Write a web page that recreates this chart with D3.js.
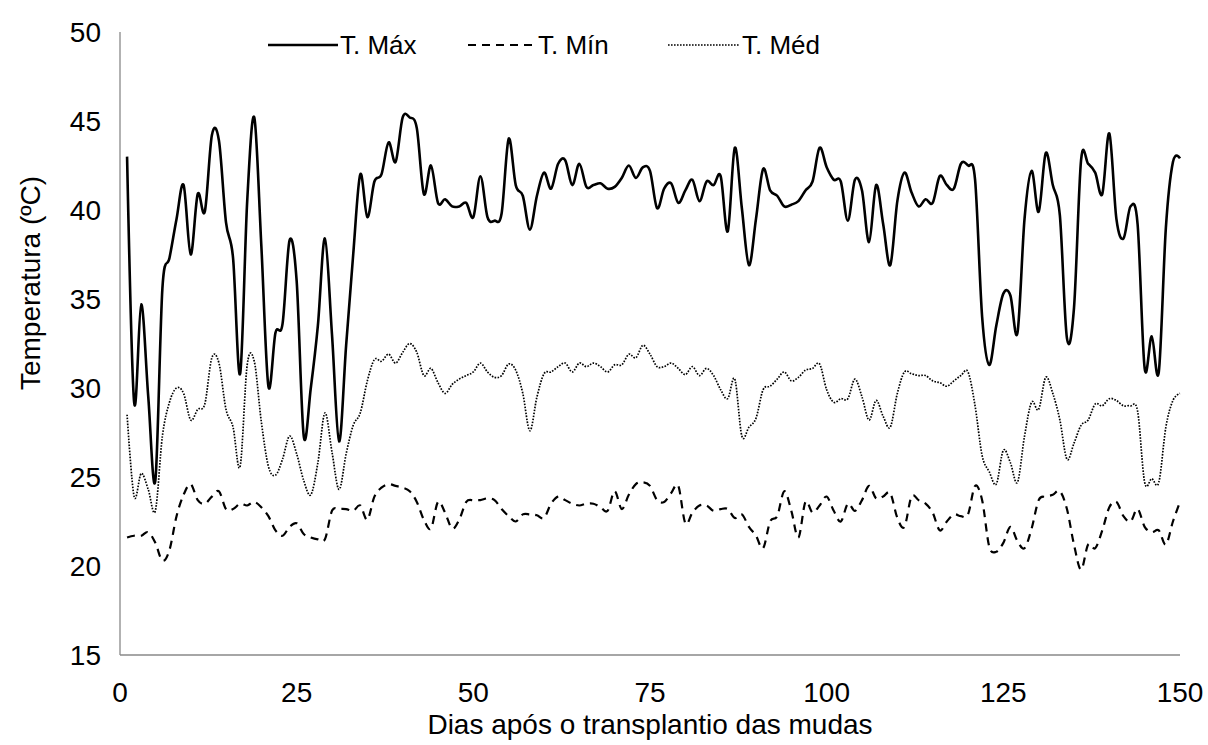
<!DOCTYPE html>
<html>
<head>
<meta charset="utf-8">
<script src="https://d3js.org/d3.v7.min.js"></script>
<style>
  body { margin: 0; background: #fff; }
  text { font-family: "Liberation Sans", Arial, sans-serif; fill: #000; }
</style>
</head>
<body>
<div id="chart"></div>
<script>
// daily temperatures, days 1..150
var tMax = [43.0,29.2,34.7,29.5,24.8,35.6,37.3,39.5,41.4,37.5,40.9,39.9,44.2,43.9,39.3,37.3,30.8,40.5,45.2,38.0,
  30.1,33.1,33.6,38.3,36.0,27.3,30.0,33.5,38.4,33.0,27.0,32.4,37.5,42.0,39.6,41.6,42.0,43.8,42.7,45.2,
  45.2,44.6,40.9,42.5,40.4,40.6,40.2,40.2,40.4,39.6,41.9,39.6,39.4,39.8,44.0,41.4,40.8,38.9,40.8,42.1,
  41.2,42.6,42.8,41.4,42.6,41.3,41.4,41.5,41.2,41.3,41.8,42.5,41.8,42.4,42.2,40.1,41.2,41.5,40.4,41.1,
  41.7,40.5,41.6,41.4,41.9,38.8,43.5,40.1,36.9,39.5,42.3,41.1,40.8,40.2,40.3,40.5,41.1,41.6,43.5,42.4,
  41.7,41.6,39.4,41.7,41.1,38.2,41.4,39.2,36.9,40.5,42.1,41.0,40.2,40.6,40.4,41.9,41.4,41.2,42.6,42.5,
  41.7,34.0,31.3,33.5,35.3,35.2,33.1,39.5,42.2,39.9,43.2,41.4,39.7,32.8,34.5,42.8,42.6,42.1,40.9,44.3,
  39.5,38.4,40.2,39.2,31.1,32.9,30.9,39.0,42.7,42.9];
var tMin = [21.6,21.7,21.7,21.9,21.3,20.3,20.9,22.8,24.0,24.6,23.7,23.5,23.9,24.2,23.2,23.2,23.5,23.4,23.6,23.3,
  22.8,22.0,21.7,22.2,22.4,21.8,21.6,21.5,21.5,23.1,23.2,23.2,23.1,23.4,22.6,23.9,24.4,24.6,24.5,24.4,
  24.2,23.6,22.6,22.1,23.6,23.0,22.1,22.6,23.6,23.7,23.7,23.8,23.7,23.2,22.8,22.5,22.9,22.9,22.85,22.7,
  23.5,23.9,23.7,23.5,23.4,23.5,23.5,23.3,23.1,24.2,23.2,24.0,24.6,24.7,24.5,23.7,23.6,24.1,24.5,22.4,
  23.0,23.4,23.4,23.1,23.2,23.2,22.7,22.9,22.2,21.7,21.0,22.5,22.8,24.2,23.1,21.6,23.6,23.0,23.4,23.9,
  23.1,22.5,23.5,23.1,23.7,24.5,23.8,23.9,24.1,22.7,22.2,23.9,23.7,23.5,23.0,22.0,22.5,22.9,22.8,22.9,
  24.5,23.7,21.1,20.8,21.3,22.2,21.4,21.0,22.1,23.7,23.9,24.0,24.2,23.2,21.2,19.8,21.2,21.0,22.0,23.3,
  23.6,22.8,22.5,23.2,22.2,21.9,22.0,21.2,22.5,23.6];
var tMed = [28.5,23.9,25.2,24.3,23.1,27.3,29.2,30.0,29.7,28.2,28.8,29.1,31.7,31.4,28.8,27.8,25.6,31.3,31.5,28.1,
  25.6,25.1,26.0,27.3,26.3,24.8,24.0,25.8,28.6,26.4,24.3,26.3,27.9,28.6,30.4,31.6,31.5,31.9,31.4,32.0,
  32.5,32.0,30.7,31.1,30.3,29.7,30.2,30.5,30.7,30.9,31.4,30.9,30.6,30.7,31.35,31.0,29.7,27.6,29.5,30.8,
  30.9,31.2,31.4,30.9,31.4,31.2,31.4,31.2,30.9,31.3,31.3,31.9,31.7,32.4,31.9,31.2,31.2,31.4,31.1,30.75,
  31.2,30.7,31.1,30.7,29.9,29.4,30.5,27.3,27.8,28.3,29.9,30.1,30.5,30.9,30.4,30.6,31.0,31.1,31.35,29.9,
  29.2,29.4,29.4,30.5,29.5,28.2,29.3,28.4,27.8,29.7,30.9,30.8,30.7,30.7,30.4,30.3,30.1,30.4,30.7,30.9,
  29.0,26.2,25.3,24.6,26.5,25.8,24.7,27.3,29.2,28.8,30.6,29.7,28.2,26.0,26.9,27.9,28.2,29.1,29.0,29.4,
  29.3,29.0,29.0,28.7,24.7,24.9,24.7,27.8,29.3,29.7];

var seriesNames = ["T. Máx", "T. Mín", "T. Méd"];
var xTicks = [0, 25, 50, 75, 100, 125, 150];
var yTicks = [15, 20, 25, 30, 35, 40, 45, 50];

var width = 1208, height = 745;
var fontSize = "28px";
var svg = d3.select("#chart").append("svg")
  .attr("width", width)
  .attr("height", height);

var xs = d3.scaleLinear().domain([0, 150]).range([120, 1180]);
var ys = d3.scaleLinear().domain([15, 50]).range([655, 32]);

// axis lines, no tick marks (excel style)
var axisColor = "#898989";
svg.append("line").attr("x1", xs(0)).attr("x2", xs(0)).attr("y1", ys(50)).attr("y2", ys(15))
  .attr("stroke", axisColor).attr("stroke-width", 1.3);
svg.append("line").attr("x1", xs(0)).attr("x2", xs(150)).attr("y1", ys(15)).attr("y2", ys(15))
  .attr("stroke", axisColor).attr("stroke-width", 1.3);

// tick labels
svg.selectAll(".ylab").data(yTicks).enter().append("text")
  .attr("class", "ylab")
  .attr("x", 101)
  .attr("y", function(d) { return ys(d) + 10; })
  .attr("text-anchor", "end")
  .style("font-size", fontSize)
  .text(function(d) { return d; });

svg.selectAll(".xlab").data(xTicks).enter().append("text")
  .attr("class", "xlab")
  .attr("x", function(d) { return xs(d); })
  .attr("y", 702)
  .attr("text-anchor", "middle")
  .style("font-size", fontSize)
  .text(function(d) { return d; });

// axis titles
svg.append("text")
  .attr("x", 650).attr("y", 734)
  .attr("text-anchor", "middle")
  .style("font-size", fontSize)
  .text("Dias após o transplantio das mudas");

svg.append("text")
  .attr("transform", "translate(40,283) rotate(-90)")
  .attr("text-anchor", "middle")
  .style("font-size", fontSize)
  .text("Temperatura (ºC)");

// lines
var styles = [
  { data: tMax, w: 2.6, dash: null },
  { data: tMin, w: 2.2, dash: "8,6" },
  { data: tMed, w: 1.7, dash: "1.6,1.4" }
];

var line = d3.line()
  .x(function(d, i) { return xs(i + 1); })
  .y(function(d) { return ys(d); })
  .curve(d3.curveCatmullRom.alpha(0));

styles.forEach(function(s) {
  svg.append("path")
    .datum(s.data)
    .attr("fill", "none")
    .attr("stroke", "#000")
    .attr("stroke-width", s.w)
    .attr("stroke-dasharray", s.dash)
    .attr("d", line);
});

// legend
var legendPos = [{ x1: 268, x2: 338 }, { x1: 468, x2: 536 }, { x1: 668, x2: 740 }];
seriesNames.forEach(function(name, i) {
  var p = legendPos[i];
  svg.append("line")
    .attr("x1", p.x1).attr("x2", p.x2).attr("y1", 45).attr("y2", 45)
    .attr("stroke", "#000")
    .attr("stroke-width", styles[i].w)
    .attr("stroke-dasharray", styles[i].dash);
  svg.append("text")
    .attr("x", p.x2 + 2).attr("y", 54)
    .style("font-size", "26px")
    .text(name);
});
</script>
</body>
</html>
